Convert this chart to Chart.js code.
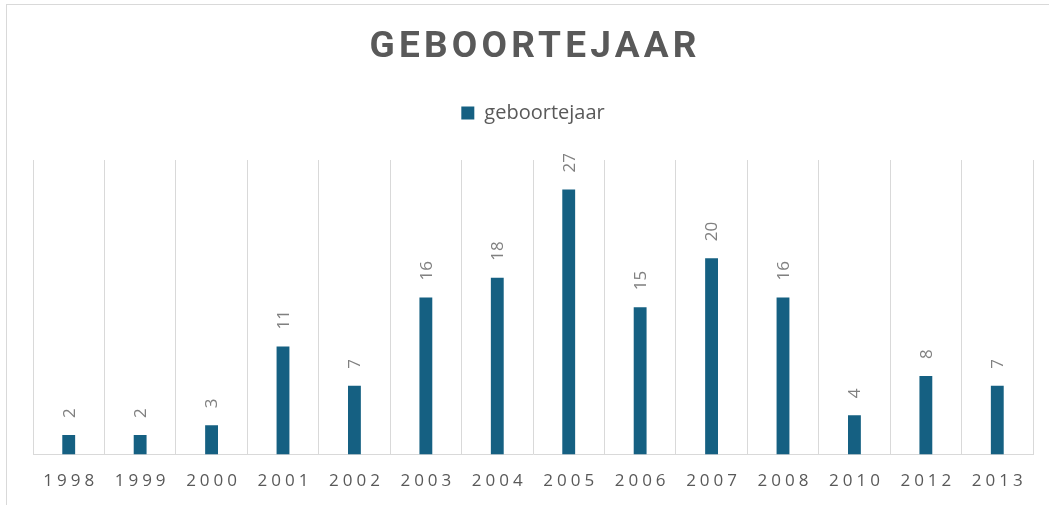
<!DOCTYPE html>
<html>
<head>
<meta charset="utf-8">
<script src="https://cdn.jsdelivr.net/npm/chart.js@4/dist/chart.umd.min.js"></script>
<style>
  body { margin: 0; background: #fff; }
  #wrap { position: relative; width: 1049px; height: 505px; }
  #frame { position: absolute; left: 6px; top: 4px; right: 0; bottom: 0;
           border-left: 1px solid #d9d9d9; border-top: 1px solid #d9d9d9; pointer-events: none; }
</style>
</head>
<body>
<div id="wrap">
  <canvas id="myChart" width="1049" height="505"></canvas>
  <div id="frame"></div>
</div>
<script>
// data
const years = ['1998', '1999', '2000', '2001', '2002', '2003', '2004', '2005', '2006', '2007', '2008', '2010', '2012', '2013'];
const geboortejaar = [2, 2, 3, 11, 7, 16, 18, 27, 15, 20, 16, 4, 8, 7];
const yMax = 30;

const titleSpacing = 4.2;
const tickSpacing = 4;
const legendGap = 27; // extra room between legend and plot

// letter spacing for title + x labels (not available as chart option)
const spacingPlugin = {
    id: 'spacing',
    beforeLayout(chart) {
        const lg = chart.legend;
        if (lg && !lg._gap) {
            const fit = lg.fit.bind(lg);
            lg.fit = function() {
                fit();
                this.height += legendGap;
            };
            lg._gap = true;
        }
    },
    beforeDraw(chart) {
        const ctx = chart.ctx;
        const wrap = (obj, name, s) => {
            if (!obj || obj['_sp_' + name]) return;
            const orig = obj[name].bind(obj);
            obj[name] = function(...args) {
                ctx.save();
                ctx.letterSpacing = s + 'px';
                ctx.translate(s / 2, 0);
                orig(...args);
                ctx.restore();
            };
            obj['_sp_' + name] = true;
        };
        wrap(chart.titleBlock, 'draw', titleSpacing);
        wrap(chart.scales.x, 'drawLabels', tickSpacing);
    }
};

// value labels, rotated, above each bar
const valueLabels = {
    id: 'valueLabels',
    afterDatasetsDraw(chart) {
        const ctx = chart.ctx;
        const meta = chart.getDatasetMeta(0);
        ctx.save();
        ctx.font = '17px "Open Sans"';
        ctx.fillStyle = '#808080';
        ctx.textAlign = 'left';
        ctx.textBaseline = 'middle';
        meta.data.forEach((bar, i) => {
            ctx.save();
            ctx.translate(bar.x, bar.y - 17);
            ctx.rotate(-Math.PI / 2);
            ctx.fillText(String(chart.data.datasets[0].data[i]), 0, 1);
            ctx.restore();
        });
        ctx.restore();
    }
};

const config = {
    type: 'bar',
    data: {
        labels: years,
        datasets: [{
            label: 'geboortejaar',
            data: geboortejaar,
            backgroundColor: '#156082',
            borderWidth: 0,
            barPercentage: 0.18,
            categoryPercentage: 1
        }]
    },
    options: {
        responsive: false,
        animation: false,
        layout: {
            padding: { top: 0, left: 33, right: 16, bottom: -2 }
        },
        plugins: {
            title: {
                display: true,
                text: 'GEBOORTEJAAR',
                color: '#595959',
                font: { family: 'Roboto', size: 37, weight: 'bold', lineHeight: 1 },
                padding: { top: 29, bottom: 0 }
            },
            legend: {
                display: true,
                labels: {
                    color: '#595959',
                    font: { family: '"Open Sans"', size: 20 },
                    boxWidth: 13,
                    boxHeight: 13,
                    padding: 37
                }
            },
            tooltip: { enabled: false }
        },
        scales: {
            x: {
                grid: {
                    display: true,
                    offset: true,
                    color: '#d9d9d9',
                    drawTicks: false
                },
                border: { display: true, color: '#d9d9d9' },
                ticks: {
                    color: '#595959',
                    font: { family: '"Open Sans"', size: 17 },
                    padding: 16,
                    maxRotation: 0,
                    autoSkip: false
                }
            },
            y: {
                display: false,
                min: 0,
                max: yMax
            }
        }
    },
    plugins: [spacingPlugin, valueLabels]
};

let myChart = new Chart(document.getElementById('myChart'), config);
</script>
</body>
</html>
